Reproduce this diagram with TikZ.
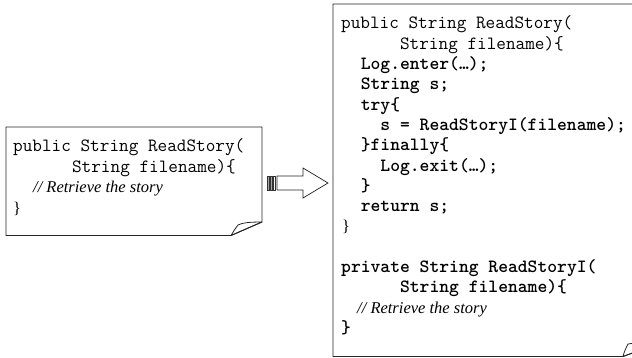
\documentclass[tikz,border=0pt]{standalone}
\usepackage{fontspec}
\setmainfont{Liberation Serif}
\newcommand\ind[1]{\hspace*{#1\dimexpr 0.525em\relax}}
\tikzset{
  code/.style={anchor=base west, inner sep=0pt, font=\fontsize{18.7}{20}\selectfont\ttfamily},
  bcode/.style={code, font=\fontsize{18.7}{20}\selectfont\ttfamily\bfseries},
  cmt/.style={anchor=base west, inner sep=0pt, font=\fontsize{16.5}{20}\selectfont\itshape},
  page/.style={draw=black!85, line width=0.9pt, fill=white},
  flap/.style={draw=black!85, line width=0.8pt, line join=round}
}
\begin{document}
\begin{tikzpicture}[x=1pt,y=-1pt]
\useasboundingbox (0,0) rectangle (632,358);
\begin{scope}
\clip (0,0) rectangle (632,358);
% left page
\path[page] (6,127) -- (262,127) -- (262,222) -- (231,235.5) -- (6,235.5) -- cycle;
\coordinate (lb) at (231,235.5);
\coordinate (lt) at (238,225);
\coordinate (lr) at (262,222);
\draw[flap] (lb) -- (lr) .. controls (248,222) and (242,223) .. (lt) .. controls (235,229) and (233,232) .. (lb);
% right page
\path[page] (333,4) -- (660,4) -- (660,343) -- (623,356.5) -- (333,356.5) -- cycle;
\coordinate (rb) at (623,356.5);
\coordinate (rt) at (628,344);
\coordinate (rr) at (660,343);
\draw[flap] (rb) -- (rr) .. controls (645,343) and (633,343) .. (rt) .. controls (626,348) and (624,352) .. (rb);
\end{scope}
% left text
\node[code] (l1) at (13,152) {public String ReadStory(};
\node[code] (l2) at (13,172.5) {\ind{6}String filename)\{};
\node[cmt] (l3) at (33,193) {// Retrieve the story};
\node[code,font=\fontsize{16.4}{20}\selectfont\rmfamily] (l4) at (13,214) {\}};
% arrow
\path[draw=black!85, line width=0.7pt, fill=white]
  (277,176) -- (303,176) -- (303,168) -- (328,183) -- (303,198) -- (303,190) -- (277,190) -- cycle;
\node[draw=black!80, fill=black!35, line width=0.5pt, minimum width=2pt, minimum height=14pt, inner sep=0pt] (s1) at (268.5,183) {};
\node[draw=black!80, fill=black!35, line width=0.5pt, minimum width=2pt, minimum height=14pt, inner sep=0pt] (s2) at (271.5,183) {};
\node[draw=black!80, fill=white, line width=0.5pt, minimum width=2pt, minimum height=14pt, inner sep=0pt] (s3) at (274.5,183) {};
% right text
\node[code] (r1) at (341,29) {public String ReadStory(};
\node[code] (r2) at (341,49.3) {\ind{6}String filename)\{};
\node[bcode] (r3) at (341,69.6) {\ind{2}Log.enter(…);};
\node[bcode] (r4) at (341,89.9) {\ind{2}String s;};
\node[bcode] (r5) at (341,110.2) {\ind{2}try\{};
\node[bcode] (r6) at (341,130.5) {\ind{4}s = ReadStoryI(filename);};
\node[bcode] (r7) at (341,150.8) {\ind{2}\}finally\{};
\node[bcode] (r8) at (341,171.1) {\ind{4}Log.exit(…);};
\node[bcode] (r9) at (341,191.4) {\ind{2}\}};
\node[bcode] (r10) at (341,211.7) {\ind{2}return s;};
\node[code,font=\fontsize{16.4}{20}\selectfont\rmfamily] (r11) at (342,232) {\}};
\node[bcode] (r12) at (341,272.6) {private String ReadStoryI(};
\node[bcode] (r13) at (341,292.9) {\ind{6}String filename)\{};
\node[cmt] (r14) at (357,313.2) {// Retrieve the story};
\node[bcode] (r15) at (341,333.5) {\}};
\end{tikzpicture}
\end{document}
